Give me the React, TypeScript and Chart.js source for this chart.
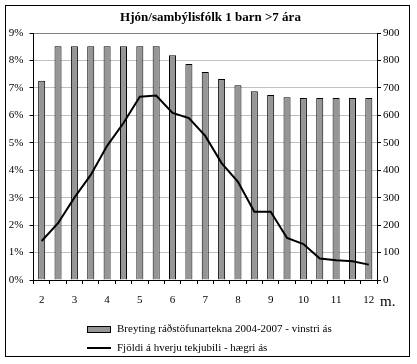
import React, { useEffect, useRef } from "react";
import { Chart, registerables } from "chart.js";

Chart.register(...registerables);

const categories = ["2", "", "3", "", "4", "", "5", "", "6", "", "7", "", "8", "", "9", "", "10", "", "11", "", "12"];
const barValues = [7.26, 8.52, 8.52, 8.52, 8.52, 8.52, 8.52, 8.52, 8.19, 7.87, 7.58, 7.32, 7.1, 6.88, 6.74, 6.66, 6.63, 6.63, 6.63, 6.63, 6.63];
const lineValues = [142, 207, 300, 383, 489, 572, 668, 672, 609, 590, 525, 426, 358, 249, 249, 153, 131, 78, 72, 68, 56];
const barLabel = "Breyting ráðstöfunartekna 2004-2007 - vinstri ás";
const lineLabel = "Fjöldi á hverju tekjubili - hægri ás";
const titleText = "Hjón/sambýlisfólk 1 barn >7 ára";
const unitText = "m.";

const SERIF = "'Liberation Serif', 'Times New Roman', serif";

export default function App() {
  const ref = useRef<HTMLCanvasElement | null>(null);
  useEffect(() => {
    if (!ref.current) return;
    const decor = {
      id: "decor",
      beforeDraw(chart: any) {
        const c = chart.ctx;
        c.save();
        c.fillStyle = "#fff";
        c.fillRect(0, 0, chart.width, chart.height);
        c.restore();
      },
      afterDraw(chart: any) {
        const c = chart.ctx;
        c.save();
        c.strokeStyle = "#000";
        c.lineWidth = 1;
        c.strokeRect(5.5, 5.5, 404, 351);
        c.fillStyle = "#000";
        c.textAlign = "center";
        c.textBaseline = "middle";
        c.font = `bold 13px ${SERIF}`;
        c.fillText(titleText, 210.5, 18);
        c.font = `15px ${SERIF}`;
        c.textAlign = "left";
        c.fillText(unitText, 380, 302);
        // legend
        const ds0 = chart.data.datasets[1];
        const ds1 = chart.data.datasets[0];
        c.fillStyle = ds0.backgroundColor;
        c.fillRect(87.5, 326.5, 23, 6);
        c.strokeStyle = "#000";
        c.strokeRect(87.5, 326.5, 23, 6);
        c.beginPath();
        c.lineWidth = 2;
        c.strokeStyle = ds1.borderColor;
        c.moveTo(87, 348);
        c.lineTo(111, 348);
        c.stroke();
        c.fillStyle = "#000";
        c.font = `11px ${SERIF}`;
        c.textAlign = "left";
        c.fillText(ds0.label, 117, 329.5);
        c.fillText(ds1.label, 117, 348.5);
        c.restore();
      },
    };
    const chart = new Chart(ref.current, {
      type: "bar",
      data: {
        labels: categories,
        datasets: [
          {
            type: "line",
            label: lineLabel,
            data: lineValues,
            yAxisID: "y1",
            borderColor: "#000",
            borderWidth: 2,
            pointRadius: 0,
            tension: 0,
            order: 0,
          } as any,
          {
            type: "bar",
            label: barLabel,
            data: barValues,
            yAxisID: "y",
            backgroundColor: "#969696",
            borderColor: "#000",
            borderWidth: 1,
            barPercentage: 0.43,
            categoryPercentage: 1,
            order: 1,
          },
        ],
      },
      options: {
        responsive: false,
        animation: false,
        layout: { padding: { left: 0, right: 0, top: 33, bottom: 54 } },
        plugins: {
          legend: { display: false },
          title: { display: false },
          tooltip: { enabled: false },
        },
        scales: {
          x: {
            offset: true,
            grid: { drawOnChartArea: false, offset: true, tickLength: 4, tickColor: "#000", color: "#000" },
            border: { color: "#000", width: 1 },
            ticks: { autoSkip: false, maxRotation: 0, padding: 10, color: "#000", font: { family: SERIF, size: 11 } },
            afterFit: (s: any) => { s.height = 30; },
          },
          y: {
            position: "left",
            min: 0,
            max: 9,
            grid: {
              color: (ctx: any) => (ctx.tick && ctx.tick.value === 9 ? "#808080" : "#c0c0c0"),
              tickLength: 4,
              tickColor: "#000",
            },
            border: { color: "#000", width: 1 },
            ticks: { stepSize: 1, padding: 6, color: "#000", font: { family: SERIF, size: 11 }, callback: (v: any) => v + "%" },
            afterFit: (s: any) => { s.width = 33.5; },
          },
          y1: {
            position: "right",
            min: 0,
            max: 900,
            grid: { drawOnChartArea: false, tickLength: 4, tickColor: "#000" },
            border: { color: "#000", width: 1 },
            ticks: { stepSize: 100, padding: 2, color: "#000", font: { family: SERIF, size: 11 } },
            afterFit: (s: any) => { s.width = 40; },
          },
        },
      },
      plugins: [decor],
    });
    return () => chart.destroy();
  }, []);
  return (
    <div style={{ position: "absolute", left: 0, top: 0, width: 417, height: 364 }}>
      <canvas ref={ref} width={417} height={364} style={{ display: "block" }} />
    </div>
  );
}
